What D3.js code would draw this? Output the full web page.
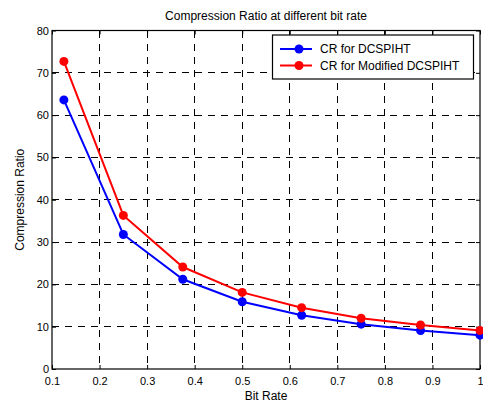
<!DOCTYPE html>
<html>
<head>
<meta charset="utf-8">
<script src="https://cdn.jsdelivr.net/npm/d3@7"></script>
<style>
  body { margin: 0; background: #fff; }
  svg { font-family: "Liberation Sans", Arial, sans-serif; }
</style>
</head>
<body>
<svg id="chart" width="483" height="405"></svg>
<script>
// data
const bitRates = [0.125, 0.25, 0.375, 0.5, 0.625, 0.75, 0.875, 1]
const crDcspiht = [63.6, 31.8, 21.2, 15.9, 12.7, 10.6, 9.1, 8.0]
const crModified = [72.7, 36.3, 24.1, 18.1, 14.5, 12.0, 10.4, 9.1]
const xTicks = [0.1, 0.2, 0.3, 0.4, 0.5, 0.6, 0.7, 0.8, 0.9, 1]
const yTicks = [0, 10, 20, 30, 40, 50, 60, 70, 80]
const seriesNames = ['CR for DCSPIHT', 'CR for Modified DCSPIHT']
const seriesColors = ['#0000ff', '#ff0000']

const margin = { left: 52, top: 30.5, right: 3, bottom: 36 }
const width = 483 - margin.left - margin.right
const height = 405 - margin.top - margin.bottom

const svg = d3.select('#chart')
const g = svg.append('g').attr('transform', `translate(${margin.left},${margin.top})`)

const x = d3.scaleLinear().domain([0.1, 1]).range([0, width])
const y = d3.scaleLinear().domain([0, 80]).range([height, 0])

// grid
g.append('g').selectAll('line').data(xTicks.slice(1, -1)).join('line')
  .attr('x1', d => x(d)).attr('x2', d => x(d))
  .attr('y1', 0).attr('y2', height)
  .attr('stroke', '#000').attr('stroke-width', 1).attr('stroke-dasharray', '7,6')
  .attr('shape-rendering', 'crispEdges')
g.append('g').selectAll('line').data(yTicks.slice(1, -1)).join('line')
  .attr('x1', 0).attr('x2', width)
  .attr('y1', d => y(d)).attr('y2', d => y(d))
  .attr('stroke', '#000').attr('stroke-width', 1).attr('stroke-dasharray', '7,6')
  .attr('shape-rendering', 'crispEdges')

// axes (ticks inside, matlab style)
g.append('g').attr('transform', `translate(0,${height})`)
  .call(d3.axisBottom(x).tickValues(xTicks).tickFormat(d3.format('~g')).tickSizeInner(-4).tickSizeOuter(0).tickPadding(8))
g.append('g')
  .call(d3.axisLeft(y).tickValues(yTicks).tickSizeInner(-4).tickSizeOuter(0).tickPadding(3))
g.append('g').call(d3.axisTop(x).tickValues(xTicks).tickFormat('').tickSizeInner(-4).tickSizeOuter(0))
g.append('g').attr('transform', `translate(${width},0)`)
  .call(d3.axisRight(y).tickValues(yTicks).tickFormat('').tickSizeInner(-4).tickSizeOuter(0))
g.selectAll('.domain').remove()
g.selectAll('.tick line').attr('stroke', '#000')
g.selectAll('.tick text').attr('font-size', 11).attr('fill', '#000')
  .attr('font-family', '"Liberation Sans", Arial, sans-serif')

g.append('rect').attr('width', width).attr('height', height)
  .attr('fill', 'none').attr('stroke', '#000').attr('stroke-width', 1.2)

// series
const seriesData = [crDcspiht, crModified]
const line = d3.line().x((d, i) => x(bitRates[i])).y(d => y(d))
seriesData.forEach((vals, k) => {
  g.append('path').datum(vals).attr('d', line)
    .attr('fill', 'none').attr('stroke', seriesColors[k]).attr('stroke-width', 2)
  g.append('g').selectAll('circle').data(vals).join('circle')
    .attr('cx', (d, i) => x(bitRates[i])).attr('cy', d => y(d)).attr('r', 4.5)
    .attr('fill', seriesColors[k])
})

// legend
const leg = svg.append('g').attr('transform', 'translate(272.5,35)')
leg.append('rect').attr('width', 201).attr('height', 44)
  .attr('fill', '#fff').attr('stroke', '#000').attr('stroke-width', 1.2)
seriesNames.forEach((name, k) => {
  const ly = 14 + k * 16.5
  leg.append('line').attr('x1', 7.5).attr('x2', 39.5).attr('y1', ly).attr('y2', ly)
    .attr('stroke', seriesColors[k]).attr('stroke-width', 2)
  leg.append('circle').attr('cx', 26.5).attr('cy', ly).attr('r', 4.5).attr('fill', seriesColors[k])
  leg.append('text').attr('x', 47.5).attr('y', ly + 4).attr('font-size', 12).text(name)
})

// titles
svg.append('text').attr('x', margin.left + width / 2).attr('y', 20)
  .attr('text-anchor', 'middle').attr('font-size', 12).text('Compression Ratio at different bit rate')
svg.append('text').attr('x', margin.left + width / 2).attr('y', 400)
  .attr('text-anchor', 'middle').attr('font-size', 12).text('Bit Rate')
svg.append('text').attr('transform', `translate(24,${margin.top + height / 2}) rotate(-90)`)
  .attr('text-anchor', 'middle').attr('font-size', 12).text('Compression Ratio')
</script>
</body>
</html>
